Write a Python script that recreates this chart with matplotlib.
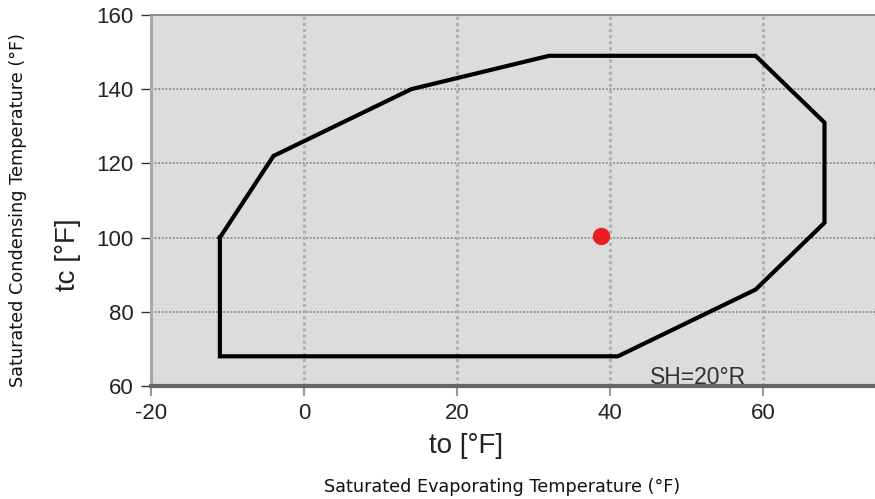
import matplotlib
matplotlib.use("Agg")
import matplotlib.pyplot as plt

# Envelope data (°F)
evap = [-11, -4, 14, 32, 59, 68, 68, 59, 41, -11, -11]
cond = [100, 122, 140, 149, 149, 131, 104, 86, 68, 68, 100]
point_evap = [38.8]
point_cond = [100.3]
x_ticks = [-20, 0, 20, 40, 60]
y_ticks = [60, 80, 100, 120, 140, 160]

W, H = 875, 499
fig = plt.figure(figsize=(W / 100, H / 100), dpi=100)
fig.patch.set_facecolor("white")

left, right, top, bottom = 151, 875, 15, 386
ax = fig.add_axes([left / W, 1 - bottom / H, (right - left) / W, (bottom - top) / H])
ax.set_facecolor("#dcdcdc")
ax.set_xlim(-20, 74.6)
ax.set_ylim(60, 160)
ax.set_xticks(x_ticks)
ax.set_yticks(y_ticks)

tick_font = dict(family=["Liberation Sans", "DejaVu Sans"], size=16)
ax.set_xticklabels([str(v) for v in x_ticks], **tick_font, color="#222222")
ax.set_yticklabels([str(v) for v in y_ticks], **tick_font, color="#222222")
ax.tick_params(axis="y", length=7.5, width=1, color="#333333", pad=5)
ax.tick_params(axis="x", length=7.5, width=1.5, color="#999999", pad=5)

# Grid
for yv in y_ticks[1:-1]:
    ax.axhline(yv, color="#8c8c8c", lw=1.3, ls=(0, (1, 1)), zorder=1)
for xv in x_ticks[1:]:
    ax.axvline(xv, color="#b0b0b0", lw=2.2, ls=(0, (1, 1)), zorder=1)

ax.spines["right"].set_visible(False)
ax.spines["top"].set_color("#8c8c8c")
ax.spines["top"].set_linestyle((0, (1, 1)))
ax.spines["top"].set_linewidth(1.5)
ax.spines["left"].set_color("#a8a8a8")
ax.spines["left"].set_linestyle((0, (1, 1)))
ax.spines["left"].set_linewidth(2.2)
ax.spines["bottom"].set_color("#666666")
ax.spines["bottom"].set_linewidth(3)

ax.plot(evap, cond, color="black", lw=3, solid_joinstyle="miter", zorder=3)
ax.plot(point_evap, point_cond, "o", color="#ec1c24", ms=11.5, zorder=4)

fig.text(698 / W, 1 - 384 / H, "SH=20°R", ha="center", va="baseline",
         family=["Liberation Sans", "DejaVu Sans"], size=16.5, color="#333333")

fig.text(466 / W, 1 - 446 / H, "to [°F]", ha="center", va="center",
         family=["Liberation Sans", "DejaVu Sans"], size=20, color="#222222")
fig.text(68 / W, 1 - 255 / H, "tc [°F]", ha="center", va="center", rotation=90,
         family=["Liberation Sans", "DejaVu Sans"], size=20, color="#222222")

fig.text(502 / W, 1 - 487 / H, "Saturated Evaporating Temperature (°F)",
         ha="center", va="center", family="DejaVu Sans", size=12.7, color="#111111")
fig.text(18 / W, 1 - 210 / H, "Saturated Condensing Temperature (°F)",
         ha="center", va="center", rotation=90, family="DejaVu Sans", size=12.7,
         color="#111111")

fig.savefig("out.png", dpi=100, facecolor="white")
